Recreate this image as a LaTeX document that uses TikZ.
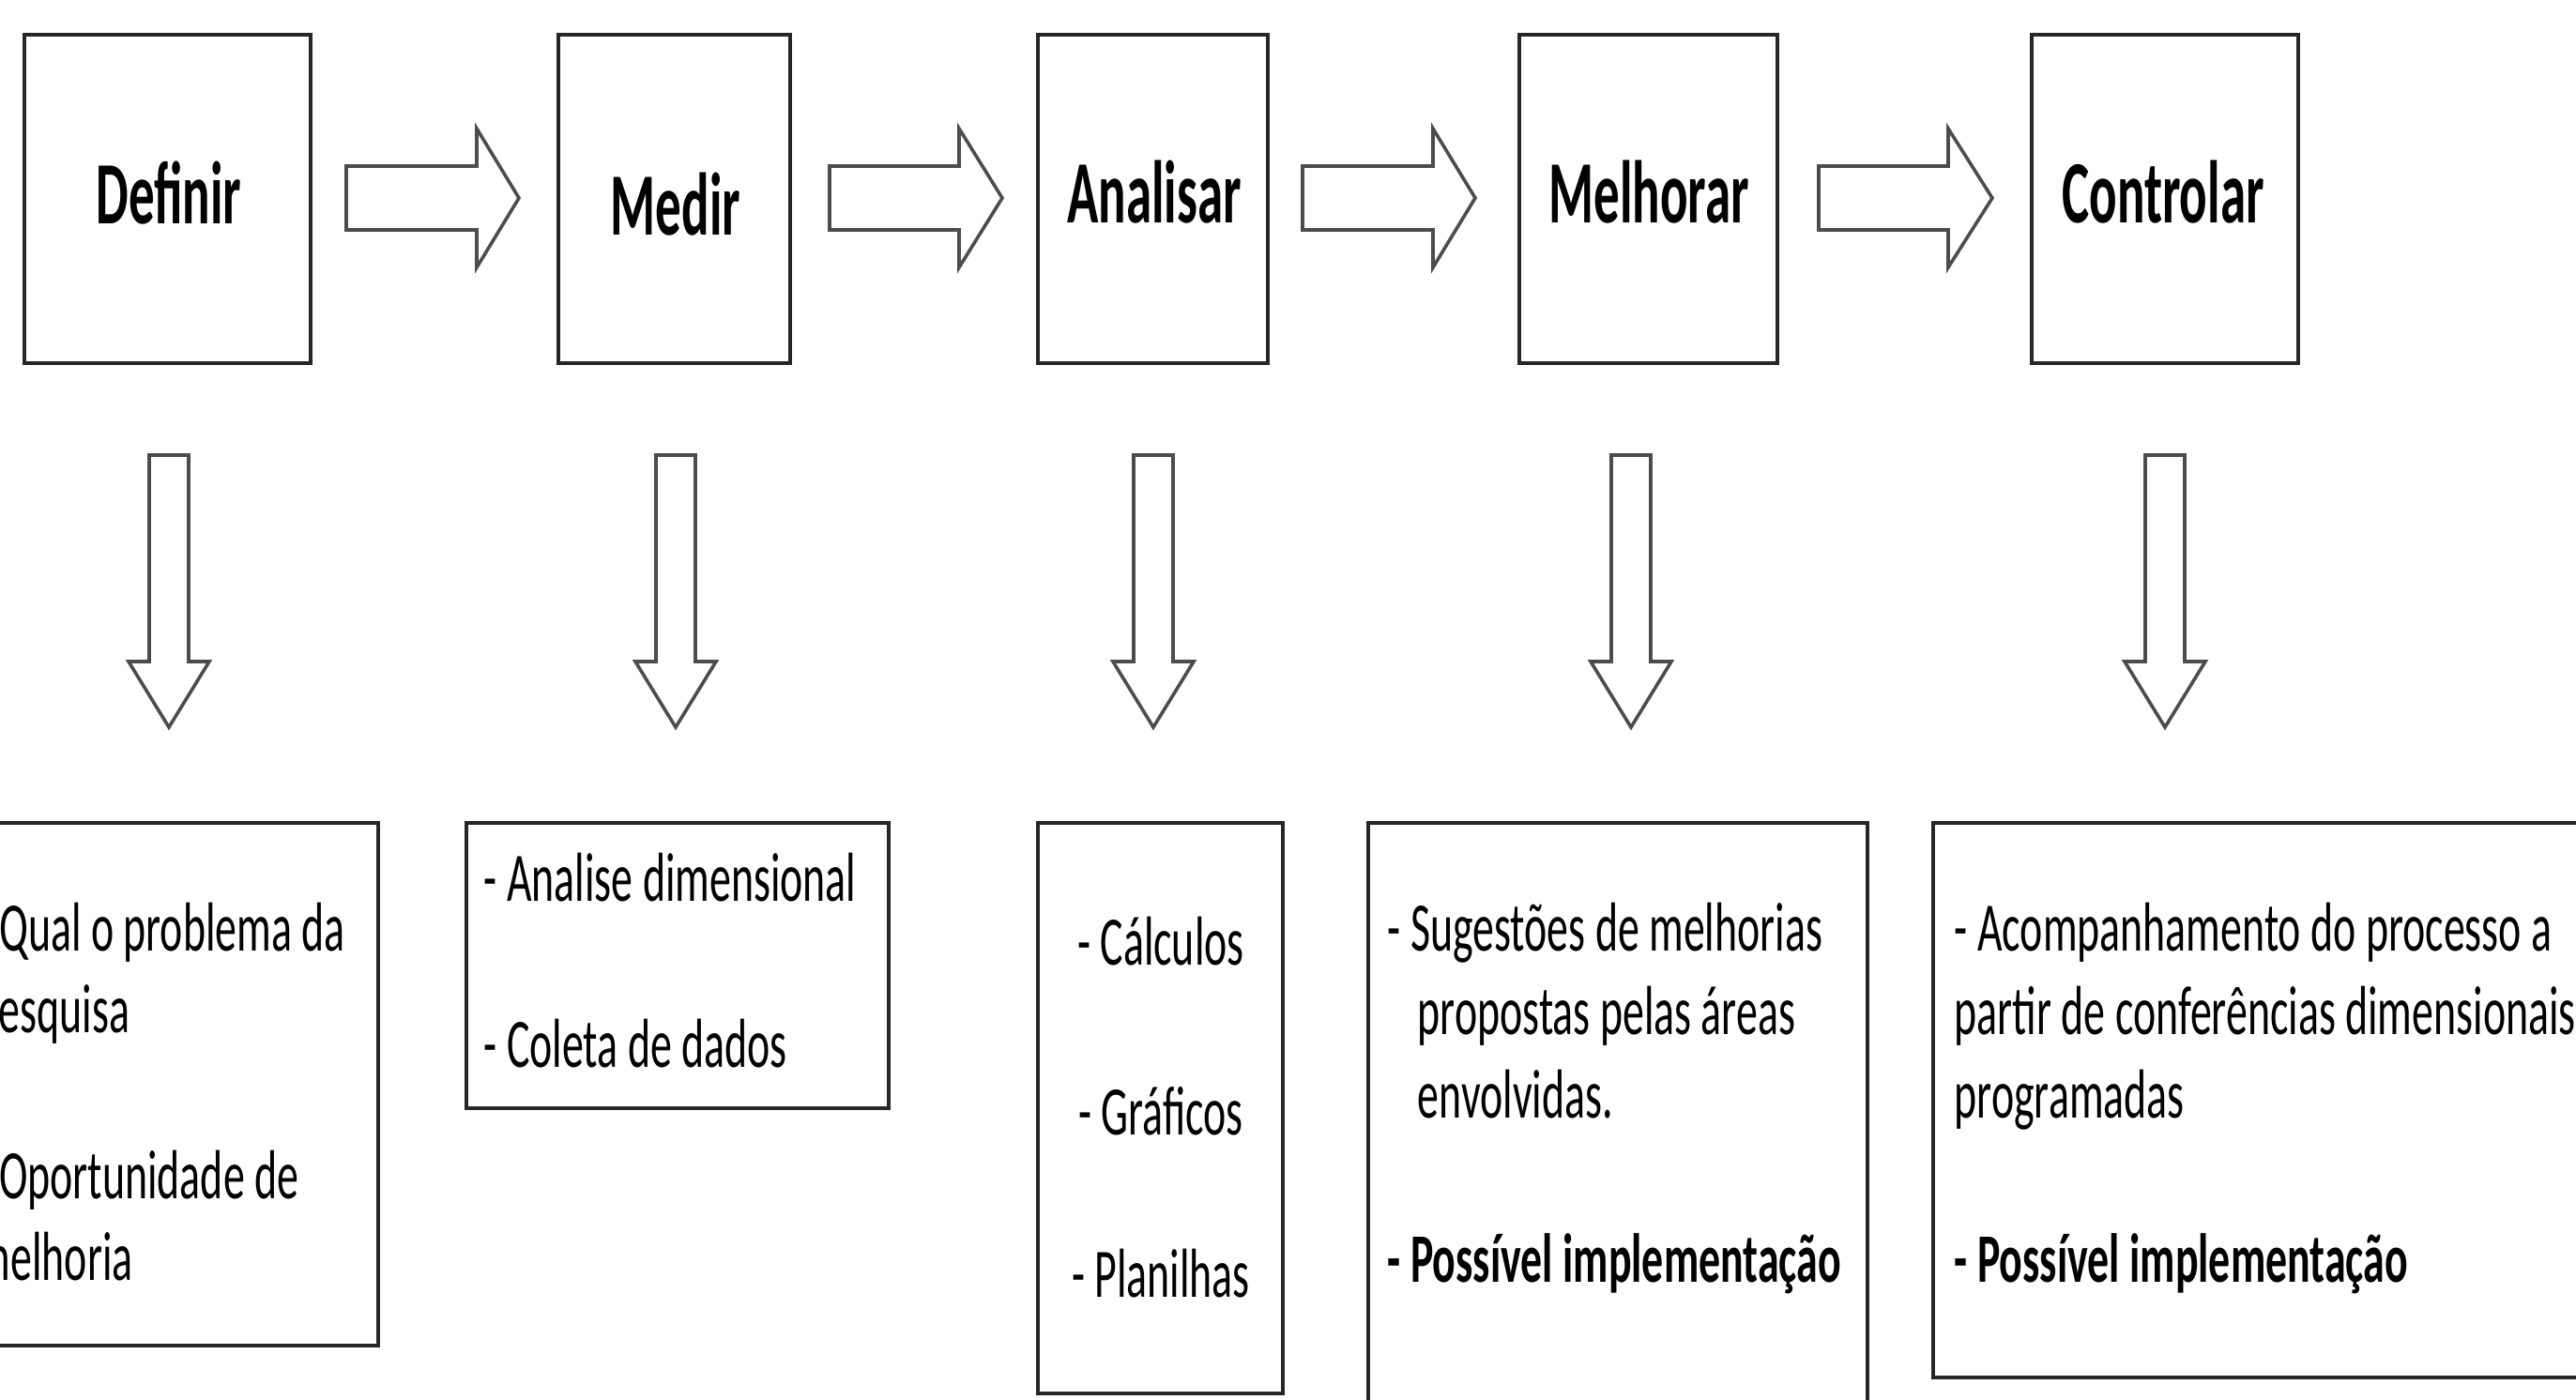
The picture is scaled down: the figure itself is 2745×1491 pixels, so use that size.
\documentclass[tikz,border=0pt]{standalone}
\usepackage{fontspec}
\setmainfont{Carlito}[FakeStretch=0.62]
\newfontfamily\titlefont{Carlito}[FakeStretch=0.58]
\usetikzlibrary{fit}
\begin{document}
\begin{tikzpicture}[x=0.25pt,y=-0.25pt,
  box/.style={draw=black!85,line width=1.1pt,fill=white,inner sep=0pt},
  blockarrow/.style={draw=black!70,line width=0.9pt,fill=white,line join=miter},
  ttl/.style={font=\titlefont\bfseries\fontsize{23.7}{28}\selectfont,inner sep=0pt,anchor=base},
  txt/.style={font=\fontsize{18.5}{22}\selectfont,inner sep=0pt,anchor=base west},
  ctxt/.style={font=\fontsize{18.5}{22}\selectfont,inner sep=0pt,anchor=base}]
\useasboundingbox (0,0) rectangle (2745,1491);
\clip (0,0) rectangle (2745,1491);

% top boxes
\node[box,fit={(26,37) (331,387)}] (bDef) {};
\node[box,fit={(595,37) (842,387)}] (bMed) {};
\node[box,fit={(1106,37) (1351,387)}] (bAna) {};
\node[box,fit={(1619,37) (1894,387)}] (bMel) {};
\node[box,fit={(2165,37) (2449,387)}] (bCon) {};

\node[ttl] (tDef) at (180,238) {Definir};
\node[ttl] (tMed) at (720,250) {Medir};
\node[ttl] (tAna) at (1230,237) {Analisar};
\node[ttl] (tMel) at (1757,237) {Melhorar};
\node[ttl] (tCon) at (2305,237) {Controlar};

% horizontal block arrows
\foreach \xa/\xb/\xc in {369/508/553, 884/1022/1068, 1388/1527/1572, 1938/2076/2123}{
  \draw[blockarrow] (\xa,177) -- (\xb,177) -- (\xb,137) -- (\xc,211) -- (\xb,285) -- (\xb,245) -- (\xa,245) -- cycle;
}

% vertical block arrows
\foreach \xc in {180,720,1229,1738,2307}{
  \draw[blockarrow] ({\xc-21},485) -- ({\xc+21},485) -- ({\xc+21},705) -- ({\xc+43},705) -- (\xc,775) -- ({\xc-43},705) -- ({\xc-21},705) -- cycle;
}

% bottom boxes
\node[box,fit={(-30,877) (403,1434)}] (cDef) {};
\node[box,fit={(497,877) (947,1181)}] (cMed) {};
\node[box,fit={(1106,877) (1367,1485)}] (cAna) {};
\node[box,fit={(1458,877) (1990,1530)}] (cMel) {};
\node[box,fit={(2060,877) (2780,1468)}] (cCon) {};

% texts box 1
\node[txt] (d1) at (-26,1013) {- Qual o problema da};
\node[txt] (d2) at (-26,1100) {pesquisa};
\node[txt] (d3) at (-26,1277) {- Oportunidade de};
\node[txt] (d4) at (-26,1364) {melhoria};

% texts box 2
\node[txt] (m1) at (515,960) {- Analise dimensional};
\node[txt] (m2) at (515,1137) {- Coleta de dados};

% texts box 3
\node[ctxt] (a1) at (1237,1028) {- Cálculos};
\node[ctxt] (a2) at (1237,1209) {- Gráficos};
\node[ctxt] (a3) at (1237,1382) {- Planilhas};

% texts box 4
\node[txt] (l1) at (1478,1013) {- Sugestões de melhorias};
\node[txt] (l2) at (1510,1102) {propostas pelas áreas};
\node[txt] (l3) at (1510,1191) {envolvidas.};
\node[txt,font=\bfseries\fontsize{18.5}{22}\selectfont] (l4) at (1478,1366) {- Possível implementação};

% texts box 5
\node[txt] (c1) at (2082,1013) {- Acompanhamento do processo a};
\node[txt] (c2) at (2082,1102) {partir de conferências dimensionais};
\node[txt] (c3) at (2082,1191) {programadas};
\node[txt,font=\bfseries\fontsize{18.5}{22}\selectfont] (c4) at (2082,1366) {- Possível implementação};
\end{tikzpicture}
\end{document}
